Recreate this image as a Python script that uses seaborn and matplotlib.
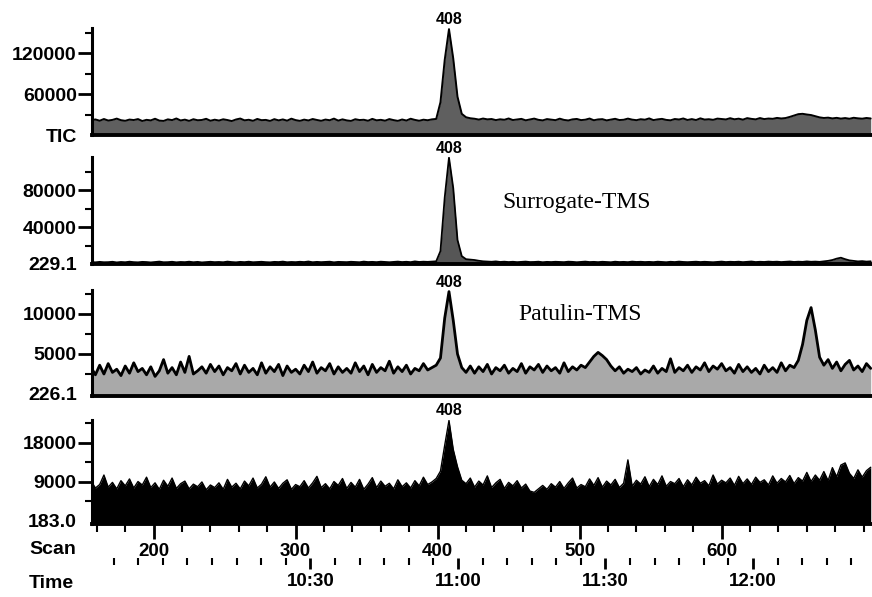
import numpy as np
import matplotlib
matplotlib.use("Agg")
import matplotlib.pyplot as plt
import seaborn as sns
from matplotlib.ticker import FixedLocator, MultipleLocator

# Every third scan across the run
scans = np.arange(156, 706, 3)

# Total ion current
tic = [
    21500, 22800, 20900, 23400, 21200, 22100, 24000, 21700, 20800, 22600,
    21900, 23300, 20500, 22200, 21400, 23800, 21100, 20600, 22900, 21800,
    24200, 21300, 22500, 20700, 23100, 21600, 22000, 23700, 20900, 22400,
    21200, 23000, 21900, 20400, 22700, 24100, 21500, 22300, 20800, 23500,
    21700, 22100, 20600, 23200, 21400, 22800, 21000, 23900, 21800, 20700,
    22500, 21300, 23400, 22000, 20800, 22600, 21600, 24000, 21100, 22900,
    21400, 20600, 23100, 21900, 22300, 20900, 23600, 21500, 22200, 21000,
    23300, 21800, 20700, 22700, 21200, 23800, 22100, 20900, 22400, 21600,
    22900, 23500, 48000, 110000, 155000, 112000, 56000, 31000, 26000, 24500,
    23800, 22600, 24100, 22900, 23400, 21800, 23000, 22300, 24200, 21900,
    22700, 23600, 21500, 22800, 24000, 22200, 21400, 23300, 22500, 21700,
    23900, 22100, 21300, 22900, 23500, 21800, 22400, 24100, 21600, 22800,
    23200, 21400, 22600, 23700, 21900, 22300, 24000, 22500, 21700, 23100,
    22400, 24300, 21800, 22900, 23600, 22100, 21500, 23400, 22700, 24200,
    22000, 23300, 21900, 24400, 22600, 23100, 22200, 24000, 23400, 22800,
    24600, 23000, 23900, 22500, 24700, 23600, 22900, 24800, 23300, 24100,
    23700, 25000, 24200, 24800, 26500, 28500, 30500, 31000, 30000, 29200,
    27500, 25800, 24900, 25400, 24300, 25100, 24000, 24800, 23800, 25200,
    24400, 23900, 24900, 24200,
]

# m/z 229.1 (surrogate-TMS)
ion_229 = [
    2100, 1800, 2300, 1900, 2000, 2400, 1700, 2200, 1900, 2500,
    2000, 1800, 2300, 2100, 1700, 2200, 2600, 1900, 2000, 2400,
    1800, 2200, 2000, 2500, 1900, 2300, 1700, 2100, 2400, 2000,
    2200, 1900, 2600, 2100, 1800, 2300, 2000, 2500, 1900, 2200,
    2400, 2000, 1800, 2300, 2100, 2600, 1900, 2200, 2000, 2400,
    2100, 2700, 1900, 2300, 2000, 2200, 2500, 1800, 2300, 2100,
    2000, 2400, 2200, 1900, 2600, 2100, 2300, 2000, 2500, 2200,
    1900, 2300, 2600, 2100, 2400, 2000, 2800, 2200, 2500, 2300,
    2600, 2900, 14000, 72000, 115000, 82000, 26000, 8500, 5200, 4800,
    4300, 3500, 2900, 2600, 2400, 2800, 2200, 2500, 2100, 2400,
    2000, 2300, 2600, 2100, 2200, 2500, 1900, 2300, 2100, 2400,
    2200, 2000, 2500, 2300, 1900, 2200, 2600, 2100, 2300, 2000,
    2400, 2200, 1900, 2500, 2100, 2300, 2000, 2600, 2200, 2400,
    2100, 2300, 2000, 2500, 2200, 1900, 2400, 2100, 2600, 2200,
    2000, 2300, 2500, 2100, 2400, 2200, 1900, 2300, 2600, 2100,
    2400, 2200, 2500, 2000, 2300, 2700, 2100, 2400, 2200, 2600,
    2300, 2500, 2100, 2400, 2700, 2200, 2500, 2300, 2800, 2400,
    2600, 2300, 2900, 3400, 4300, 5800, 6800, 5200, 3900, 3300,
    2800, 3100, 2600, 2900,
]

# m/z 226.1 (patulin-TMS)
ion_226 = [
    3300, 2400, 3600, 2500, 3800, 2700, 3100, 2300, 3500, 2600,
    3900, 2800, 3200, 2400, 3400, 2200, 2900, 4300, 2600, 3300,
    2400, 4000, 2700, 4700, 2500, 2900, 3400, 2600, 3700, 2800,
    3500, 2400, 3300, 2900, 3800, 2500, 3600, 2700, 3200, 2400,
    3900, 2600, 3400, 2800, 3700, 2300, 3500, 2700, 3100, 2500,
    3600, 2800, 4000, 2600, 3300, 2900, 3800, 2500, 3400, 2700,
    3200, 2600, 3900, 2800, 3500, 2400, 3700, 2700, 3300, 2900,
    4100, 2600, 3400, 2800, 3600, 2500, 3200, 2900, 3800, 3000,
    3300, 3600, 4500, 9500, 12800, 9200, 5000, 3300, 2700, 3500,
    2600, 3400, 2800, 3700, 2500, 3300, 2900, 3600, 2600, 3200,
    2800, 3800, 2600, 3400, 3000, 3700, 2700, 3500, 2900, 3300,
    2600, 3900, 2800, 3400, 3000, 3600, 3300, 4000, 4700, 5200,
    4800, 4300, 3500, 2900, 3400, 2600, 3100, 2800, 3300, 2500,
    3000, 2700, 3500, 2600, 3200, 2800, 4400, 2700, 3300, 2900,
    3600, 2700, 3400, 3000, 3900, 2800, 3500, 3100, 3800, 2900,
    3300, 2600, 3700, 2800, 3400, 2700, 3200, 2500, 3600, 2800,
    3300, 2700, 3900, 2900, 3600, 3300, 4200, 6200, 9200, 10800,
    8000, 4600, 3600, 4300, 3200, 4000, 2900, 3700, 4200, 3000,
    3500, 2800, 3800, 3200,
]

# m/z 183.0
ion_183 = [
    9200, 7600, 8400, 10600, 7800, 8900, 7400, 9300, 8100, 9700,
    7600, 9100, 8300, 10100, 7700, 8800, 7300, 9400, 8000, 9900,
    7500, 8600, 9200, 7400, 8500, 7900, 9000, 7200, 8300, 7700,
    8800, 7300, 9600, 7800, 8700, 7400, 9200, 8100, 9900, 7600,
    8500, 10200, 7800, 9000, 7500, 8700, 9500, 7300, 8400, 7900,
    9300, 7600, 8800, 10300, 7700, 8600, 7400, 9100, 8200, 9800,
    7500, 8900, 7800, 9600, 7300, 8500, 10000, 7700, 9200, 8000,
    8700, 7400, 9500, 7900, 8800, 7600, 9300, 8100, 10100, 8400,
    9000, 9800, 11500, 17500, 23200, 16500, 12500, 9400, 8600, 9900,
    7800, 9200, 8300, 10400, 7700, 8800, 9600, 7500, 8900, 8100,
    9300, 7600, 8500, 6900, 6600, 7400, 8200, 7300, 8600, 7800,
    9100, 7500, 8800, 9900, 7600, 8400, 7900, 9700, 8200, 10000,
    7800, 9200, 8300, 9600, 7700, 8700, 14100, 8000, 9400, 8500,
    10200, 7900, 9600, 8400, 10400, 8000, 9100, 8600, 9800, 7900,
    9500, 8300, 10100, 8700, 9300, 8100, 10600, 8500, 9400, 8800,
    9900, 8200, 10300, 8600, 9700, 8400, 10100, 8900, 9500, 8300,
    10400, 8700, 9800, 9000, 10500, 8600, 10000, 9200, 11200, 9100,
    10600, 9400, 11400, 9300, 12300, 10200, 12900, 13400, 11000, 9800,
    11800, 10100, 11600, 12400,
]

traces = [tic, ion_229, ion_226, ion_183]
channel_labels = ["TIC", "229.1", "226.1", "183.0"]
major_yticks = [[60000, 120000], [40000, 80000], [5000, 10000], [9000, 18000]]
minor_yticks = [[30000, 90000, 150000], [20000, 60000, 100000],
                [2500, 7500, 12500], [4500, 13500, 22500]]
y_limits = [(0, 156600), (0, 115700), (-250, 13000), (-700, 23300)]
scan_ticks = [200, 300, 400, 500, 600]
peak_scan = 408
compound_names = {1: "Surrogate-TMS", 2: "Patulin-TMS"}

# Scan number <-> retention time (mm:ss held as seconds)
SCAN_AT_1100 = 414.3
SCANS_PER_SECOND = 3.463
time_ticks = [630, 660, 690, 720]
time_labels = ["10:30", "11:00", "11:30", "12:00"]


def scan_to_time(s):
    return 660 + (np.asarray(s, dtype=float) - SCAN_AT_1100) / SCANS_PER_SECOND


def time_to_scan(t):
    return SCAN_AT_1100 + (np.asarray(t, dtype=float) - 660) * SCANS_PER_SECOND


sns.set_style("ticks")
plt.rcParams["font.family"] = ["Liberation Sans", "DejaVu Sans"]
plt.rcParams["font.weight"] = "bold"
for key in ("text.color", "axes.labelcolor", "xtick.color", "ytick.color",
            "axes.edgecolor", "xtick.labelcolor", "ytick.labelcolor"):
    plt.rcParams[key] = "black"

W, H = 872, 597
fig = plt.figure(figsize=(W / 100, H / 100), dpi=100)
left_px, right_px = 92, 872
rows_px = [(28, 135), (157, 264), (290, 396), (420, 524)]

fills = [
    dict(face="#5f5f5f", lw=1.4),
    dict(face="#565656", lw=1.3),
    dict(face="#a9a9a9", lw=2.0),
    dict(face="black", lw=1.0),
]

axes = []
for i, (top, bot) in enumerate(rows_px):
    ax = fig.add_axes([left_px / W, 1 - bot / H, (right_px - left_px) / W, (bot - top) / H])
    axes.append(ax)
    y = np.asarray(traces[i], dtype=float)
    st = fills[i]
    ax.fill_between(scans, y, y_limits[i][0], facecolor=st["face"], linewidth=0)
    sns.lineplot(x=scans, y=y, ax=ax, color="black", linewidth=st["lw"],
                 estimator=None)
    ax.set_xlabel("")
    ax.set_ylabel("")
    ax.set_xlim(156.6, 705.9)
    ax.set_ylim(*y_limits[i])

    for side in ("top", "right"):
        ax.spines[side].set_visible(False)
    ax.spines["left"].set_linewidth(2.2)
    ax.spines["bottom"].set_linewidth(2.8)

    ax.set_yticks([0] + major_yticks[i],
                  [channel_labels[i]] + [str(v) for v in major_yticks[i]])
    ax.yaxis.get_major_ticks()[0].tick1line.set_visible(False)
    ax.set_yticks(minor_yticks[i], minor=True)
    ax.tick_params(axis="y", which="major", length=10, width=2,
                   labelsize=14, pad=1)
    ax.tick_params(axis="y", which="minor", length=5, width=1.5)

    k = int(np.where(scans == peak_scan)[0][0])
    ax.annotate(str(peak_scan), xy=(peak_scan, y[k]), xytext=(0, 1.5),
                textcoords="offset points", ha="center", va="bottom",
                fontsize=11.5, fontweight="bold", annotation_clip=False)

    if i < 3:
        ax.tick_params(axis="x", which="both", bottom=False, labelbottom=False)

# Compound names
axes[1].text(0.5256, 0.523, compound_names[1], transform=axes[1].transAxes,
             family=["Liberation Serif", "DejaVu Serif"], fontweight="normal",
             fontsize=17, ha="left", va="baseline")
axes[2].text(0.546, 0.717, compound_names[2], transform=axes[2].transAxes,
             family=["Liberation Serif", "DejaVu Serif"], fontweight="normal",
             fontsize=17, ha="left", va="baseline")

# Scan axis
ax4 = axes[3]
ax4.xaxis.set_major_locator(FixedLocator(scan_ticks))
ax4.set_xticks(scan_ticks, [str(v) for v in scan_ticks])
ax4.xaxis.set_minor_locator(MultipleLocator(20))
ax4.tick_params(axis="x", which="major", length=11, width=2, labelsize=13.5, pad=3)
ax4.tick_params(axis="x", which="minor", length=6, width=1.5)

# Retention time axis
sec = ax4.secondary_xaxis(-0.327, functions=(scan_to_time, time_to_scan))
sec.spines[["top", "bottom"]].set_visible(False)
sec.set_xticks(time_ticks, time_labels)
sec.xaxis.set_minor_locator(MultipleLocator(5))
sec.tick_params(axis="x", which="major", length=8, width=2, labelsize=13.5,
                pad=3, direction="out")
sec.tick_params(axis="x", which="minor", length=5, width=1.5, direction="out")

fig.text(29 / W, 1 - 549 / H, "Scan", fontsize=14, fontweight="bold",
         ha="left", va="center")
fig.text(29 / W, 1 - 584 / H, "Time", fontsize=14, fontweight="bold",
         ha="left", va="center")

fig.savefig("out.png", dpi=100)
